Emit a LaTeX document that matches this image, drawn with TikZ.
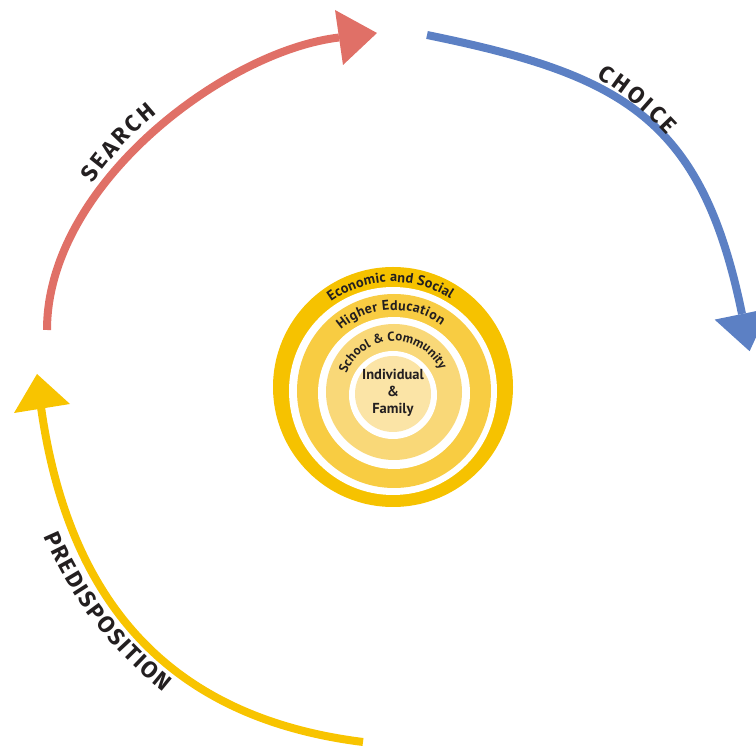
\documentclass[tikz,border=0pt]{standalone}
\usepackage{fontspec}
\usetikzlibrary{decorations.text}
\newfontfamily\lblfont{Fira Sans}
\newfontfamily\ctrfont{PT Sans}
\newcommand\lbltxt{\lblfont\bfseries\fontsize{23}{24}\selectfont}
\newcommand\ringtxt{\ctrfont\bfseries\fontsize{14.2}{15}\selectfont}
\newcommand\ringtxtmd{\ctrfont\bfseries\fontsize{14}{15}\selectfont}
\newcommand\ringtxtsm{\ctrfont\bfseries\fontsize{13}{14}\selectfont}
\definecolor{redA}{RGB}{224,112,103}
\definecolor{blueA}{RGB}{92,128,196}
\definecolor{yelA}{RGB}{248,196,0}
\definecolor{ringA}{RGB}{246,194,0}
\definecolor{ringB}{RGB}{248,204,66}
\definecolor{ringC}{RGB}{249,216,120}
\definecolor{ringD}{RGB}{251,228,166}
\definecolor{txt}{RGB}{35,31,32}
\begin{document}
\begin{tikzpicture}[x=1pt,y=1pt,
  arrowline/.style={line width=8pt},
  curvtext/.style 2 args={decorate, decoration={text along path, text={|#1|#2}, text align={fit to path}, text color=txt}}
]
\useasboundingbox (0,0) rectangle (756,748);
\clip (0,0) rectangle (756,748);

% concentric rings
\fill[ringA] (393,361) circle[radius=120];
\fill[white] (393,357) circle[radius=104];
\fill[ringB] (394,357) circle[radius=97];
\fill[white] (394,355) circle[radius=76];
\fill[ringC] (394,356) circle[radius=68];
\fill[white] (393,353) circle[radius=44];
\fill[ringD] (393,354) circle[radius=38];

\coordinate (cA) at (393,361);
\coordinate (cB) at (394,357);
\coordinate (cC) at (394,356);
\path[curvtext={\ringtxt}{Economic and Social}] ([shift={(126:105)}]cA) arc[start angle=126, end angle=56.8, radius=105];
\path[curvtext={\ringtxtmd}{Higher Education}] ([shift={(131:81)}]cB) arc[start angle=131, end angle=54.2, radius=81];
\path[curvtext={\ringtxtsm}{School {\&} Community}] ([shift={(158.5:51)}]cC) arc[start angle=158.5, end angle=25.5, radius=51];

\node[font=\ctrfont\bfseries\fontsize{14.5}{17}\selectfont, text=txt, align=center, inner sep=0pt] (core) at (393,355.5) {Individual\\\&\\Family};

% red arrow (search)
\coordinate (redS) at (47,418);
\coordinate (redE) at (339,710.5);
\coordinate (redTip) at (377,715);
\coordinate (redL) at (335,738);
\coordinate (redR) at (343,683);
\draw[arrowline, redA] (redS) .. controls (47,563) and (224.9,697) .. (redE);
\fill[redA] (redTip) -- (redL) -- (redR) -- cycle;

% blue arrow (choice)
\coordinate (blueS) at (427,713);
\coordinate (blueE) at (742,434);
\coordinate (blueTip) at (749.6,396.8);
\coordinate (blueL) at (769.4,439.6);
\coordinate (blueR) at (714.6,428.4);
\draw[arrowline, blueA] (blueS) .. controls (623,673) and (702,630) .. (blueE);
\fill[blueA] (blueTip) -- (blueL) -- (blueR) -- cycle;

% yellow arrow (predisposition)
\coordinate (yelS) at (363,6);
\coordinate (yelE) at (41,341);
\coordinate (yelTip) at (37,374);
\coordinate (yelL) at (14,335);
\coordinate (yelR) at (70,344);
\draw[arrowline, yelA] (yelS) .. controls (154.7,32) and (66,162.8) .. (yelE);
\fill[yelA] (yelTip) -- (yelL) -- (yelR) -- cycle;

% arc labels
\coordinate (cRed) at (370,373);
\coordinate (cBlue) at (415,380);
\coordinate (cYel) at (410,368);
\path[curvtext={\lbltxt}{SEARCH}] ([shift={(145.4:337)}]cRed) arc[start angle=145.4, end angle=129.2, radius=337];
\path[curvtext={\lbltxt}{CHOICE}] ([shift={(58:343)}]cBlue) arc[start angle=58, end angle=42.7, radius=343];
\path[curvtext={\lbltxt}{PREDISPOSITION}] ([shift={(203.1:398)}]cYel) arc[start angle=203.1, end angle=231.7, radius=398];
\end{tikzpicture}
\end{document}
